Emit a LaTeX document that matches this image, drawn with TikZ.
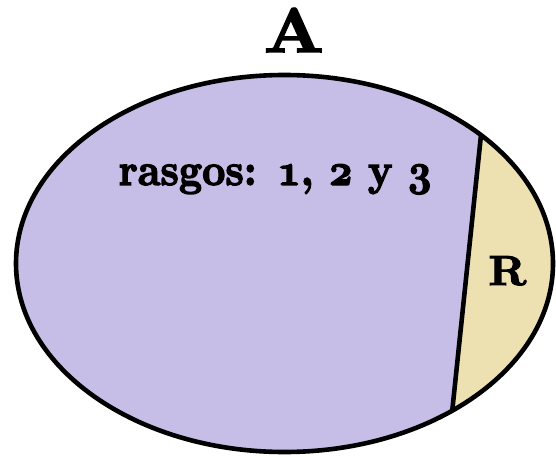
\documentclass[tikz,border=0pt]{standalone}
\newcommand{\osn}[1]{{\usefont{OML}{cmm}{b}{it}#1}}
\newcommand{\heavy}[2]{\special{pdf:literal direct 2 Tr #1 w}#2\special{pdf:literal direct 0 Tr}}
\begin{document}
\begin{tikzpicture}[x=1pt,y=-1pt,
  outline/.style={line width=4.6pt, draw=black},
  lbl/.style={inner sep=0pt, anchor=base, font=\bfseries, transform shape}]
\definecolor{purp}{HTML}{C6BEE6}
\definecolor{tan}{HTML}{EEE1B1}
\useasboundingbox (0,0) rectangle (556,457);
\coordinate (c) at (284.5,263.5);
\coordinate (t) at (486.8,79.4);
\coordinate (b) at (446.2,468.6);
\fill[purp] (c) ellipse [x radius=268.5, y radius=188.5];
\begin{scope}
  \clip (c) ellipse [x radius=268.5, y radius=188.5];
  \fill[tan] (t) -- (b) -- (600,468.6) -- (600,79.4) -- cycle;
  \draw[outline] (t) -- (b);
\end{scope}
\draw[outline] (c) ellipse [x radius=268.5, y radius=188.5];
\node[lbl, xscale=6.9, yscale=6.3] (A) at (294,52) {\heavy{0.25}{A}};
\node[lbl, xscale=4.05, yscale=4.5] (ras) at (275,185) {\heavy{0.3}{rasgos: \osn{1}, \osn{2} y \osn{3}}};
\node[lbl, xscale=4.4, yscale=4.2] (R) at (507.5,285) {\heavy{0.25}{R}};
\end{tikzpicture}
\end{document}
